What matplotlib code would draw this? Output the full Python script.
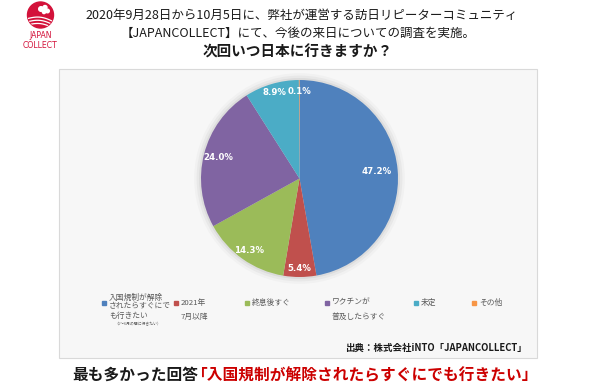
import numpy as np
import matplotlib
matplotlib.use('Agg')
import matplotlib.pyplot as plt
from matplotlib.patches import Rectangle, Circle

plt.rcParams['font.family'] = ['Noto Sans CJK JP', 'DejaVu Sans']

# survey data
categories = ['入国規制が解除されたらすぐにでも行きたい', '2021年7月以降', '終息後すぐ',
              'ワクチンが普及したらすぐ', '未定', 'その他']
shares = [47.2, 5.4, 14.3, 24.0, 8.9, 0.1]
colors = ['#4F81BD', '#C0504D', '#9BBB59', '#8064A2', '#4BACC6', '#F79646']
legend_labels = ['入国規制が解除\nされたらすぐにで\nも行きたい', '2021年\n7月以降', '終息後すぐ',
                 'ワクチンが\n普及したらすぐ', '未定', 'その他']
legend_note = '（1～6月の間に行きたい）'

title_lines = ['2020年9月28日から10月5日に、弊社が運営する訪日リピーターコミュニティ',
               '【JAPANCOLLECT】にて、今後の来日についての調査を実施。']
question = '次回いつ日本に行きますか？'
source = '出典：株式会社iNTO「JAPANCOLLECT」'
answer_lead = '最も多かった回答'
answer_text = '「入国規制が解除されたらすぐにでも行きたい」'

W, H = 600, 391
fig = plt.figure(figsize=(W / 100, H / 100), dpi=100)
fig.patch.set_facecolor('white')

# background axes in pixel coordinates
bg = fig.add_axes([0, 0, 1, 1])
bg.set_xlim(0, W)
bg.set_ylim(H, 0)
bg.axis('off')

# chart area box
bg.add_patch(Rectangle((59, 69), 478, 289, facecolor='#f7f7f7', edgecolor='#d9d9d9', lw=0.8))

# logo
logo_red = '#d3123a'
logo = Circle((40.5, 15), 13, color=logo_red)
bg.add_patch(logo)
xs = np.linspace(26, 55, 40)
for k in range(3):
    ln, = bg.plot(xs, 19 + k * 3.2 - 3.5 * np.sin((xs - 26) / 29 * np.pi) + (xs - 26) * 0.12,
                  color='white', lw=0.9)
    ln.set_clip_path(logo)
for (px, py, pr) in [(41, 9, 2.3), (45, 7.5, 2.0), (47.5, 11, 1.8), (44, 12, 1.6)]:
    bg.add_patch(Circle((px, py), pr, color='white'))
bg.text(40.5, 36, 'JAPAN', ha='center', va='center', fontsize=5.6, color=logo_red, family='DejaVu Sans')
bg.text(40.5, 45, 'COLLECT', ha='center', va='center', fontsize=5.6, color=logo_red, family='DejaVu Sans')

# titles
bg.text(302, 15, title_lines[0], ha='center', va='center', fontsize=9, color='#1a1a1a')
bg.text(298, 33, title_lines[1], ha='center', va='center', fontsize=9, color='#1a1a1a')
bg.text(298, 52, question, ha='center', va='center', fontsize=10.5, weight='bold', color='#1a1a1a')

# pie
cx, cy, r = 299.5, 178.5, 98.5
ax = fig.add_axes([(cx - r) / W, 1 - (cy + r) / H, 2 * r / W, 2 * r / H])
wedges, _ = ax.pie(shares, colors=colors, startangle=90, counterclock=False,
                   wedgeprops=dict(linewidth=0))
ax.set_xlim(-1, 1)
ax.set_ylim(-1, 1)
for rr, a in [(1.07, 0.025), (1.045, 0.035), (1.02, 0.05)]:
    ax.add_patch(Circle((0, 0), rr, color='black', alpha=a, zorder=0, clip_on=False, lw=0))

label_dist = [0.79, 0.91, 0.89, 0.85, 0.91, 0.88]
for w, d, v in zip(wedges, label_dist, shares):
    ang = np.deg2rad((w.theta1 + w.theta2) / 2)
    ax.text(d * np.cos(ang), d * np.sin(ang), f'{v:.1f}%', ha='center', va='center',
            fontsize=6.2, weight='bold', color='white', family='DejaVu Sans')

# legend
leg_x = [104, 176, 247, 327, 416, 474]
leg_spacing = [1.15, 2.0, 1.2, 2.0, 1.2, 1.2]
for x, c, lab, ls in zip(leg_x, colors, legend_labels, leg_spacing):
    bg.add_patch(Rectangle((x - 2, 301), 4, 4, color=c))
    top = 293.5 if lab.count('\n') == 2 else 298.5
    bg.text(x + 5, top, lab, ha='left', va='top', fontsize=5.6, color='#595959', linespacing=ls)
bg.text(114, 324.5, legend_note, ha='left', va='center', fontsize=2.8, color='#595959')

# source
bg.text(527, 348, source, ha='right', va='center', fontsize=6.8, weight='bold', color='#1a1a1a')

# headline
lead = bg.text(72, 375, answer_lead, ha='left', va='center', fontsize=11.3, weight='bold', color='#1a1a1a')
bg.annotate(answer_text, xy=(1, 0.5), xycoords=lead, xytext=(-4.5, 0), textcoords='offset points',
            ha='left', va='center', fontsize=11.3, weight='bold', color='#cc0000')

fig.savefig('out.png', dpi=100, facecolor='white')
